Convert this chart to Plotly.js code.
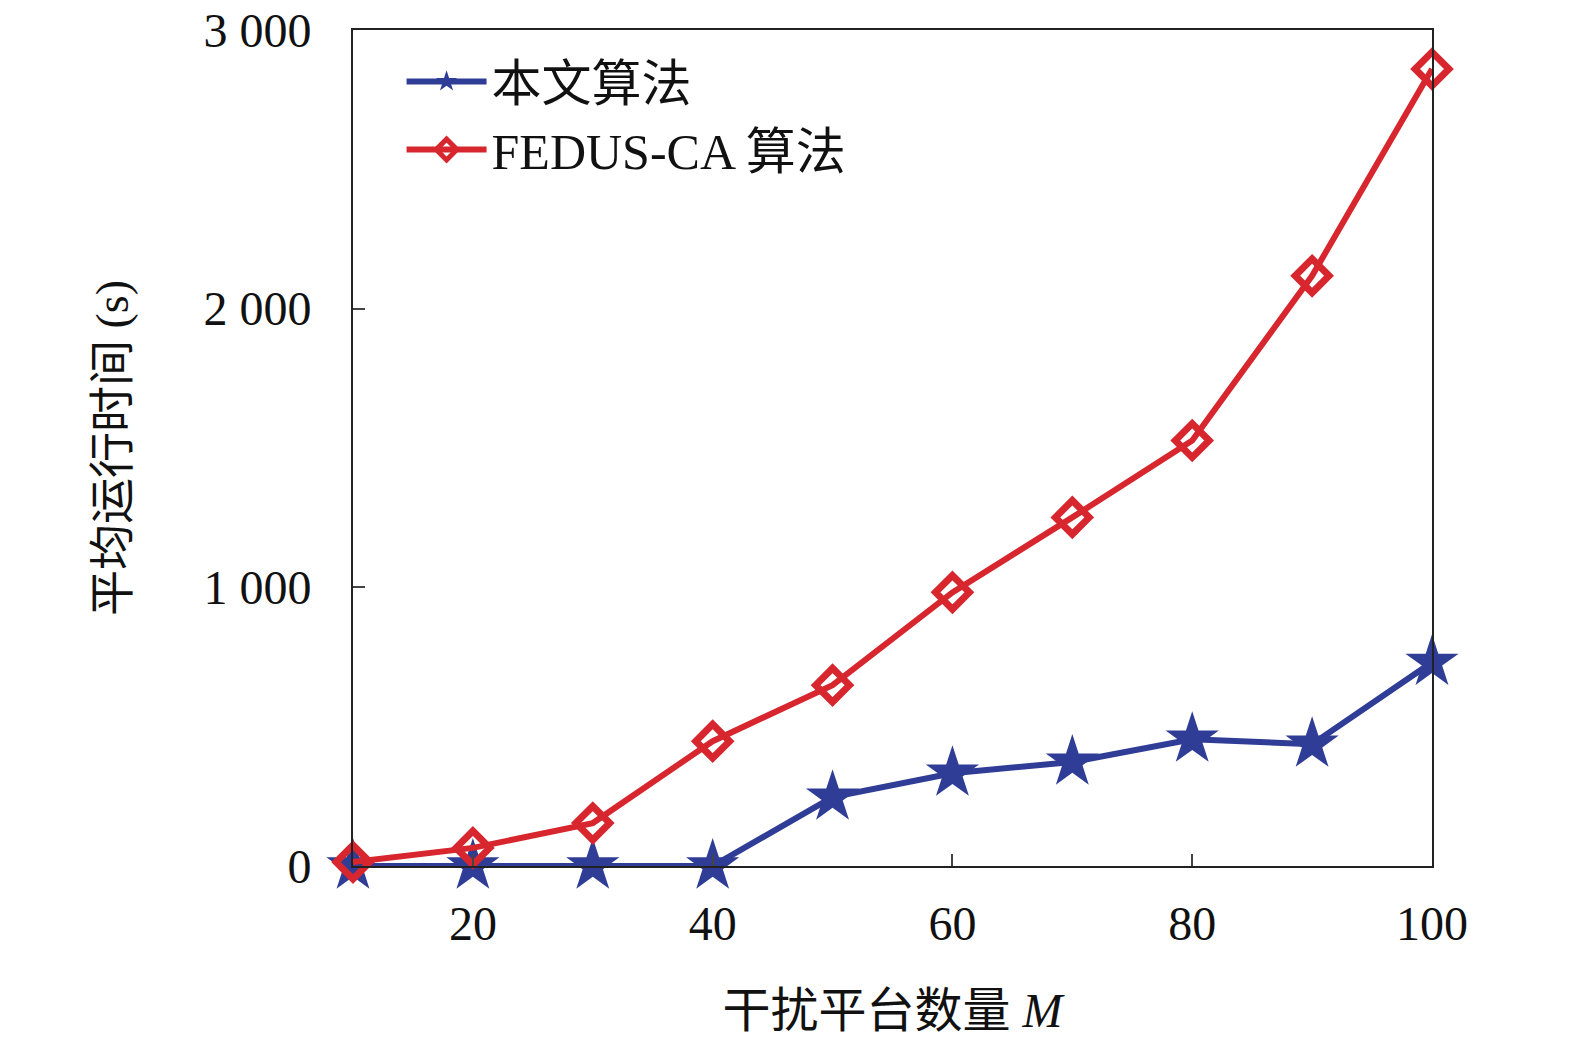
<!DOCTYPE html>
<html><head><meta charset="utf-8">
<script src="https://cdn.plot.ly/plotly-3.0.1.min.js"></script>
<style>body{margin:0;background:#fff}</style>
</head><body>
<div id="chart" style="width:1575px;height:1054px"></div>
<script>
// platform counts M
const platforms = [10, 20, 30, 40, 50, 60, 70, 80, 90, 100];
// average running time (s)
const oursTime = [0, 0, 0, 0, 247, 333, 373, 455, 437, 731];
const fedusTime = [14, 65, 154, 448, 649, 982, 1251, 1527, 2118, 2860];
const yTicks = [0, 1000, 2000, 3000];
const yTickText = ['0', '1 000', '2 000', '3 000'];
const xTicks = [20, 40, 60, 80, 100];

const blue = '#2f3d96', red = '#d8262e';
const fontFam = '"Liberation Serif", "Noto Sans CJK SC", serif';

let traces = [
  {
    x: platforms, y: oursTime, name: '本文算法', type: 'scatter', mode: 'lines+markers',
    line: {color: blue, width: 6},
    marker: {symbol: 'star', size: 40, color: blue},
    cliponaxis: false
  },
  {
    x: platforms, y: fedusTime, name: 'FEDUS-CA 算法', type: 'scatter', mode: 'lines+markers',
    line: {color: red, width: 6},
    marker: {symbol: 'diamond-open', size: 26, color: red, line: {width: 7, color: red}},
    cliponaxis: false
  }
];

let layout = {
  width: 1575, height: 1054,
  margin: {l: 353, r: 143, t: 30, b: 188},
  paper_bgcolor: 'white', plot_bgcolor: 'white',
  font: {family: fontFam, size: 48, color: '#111'},
  showlegend: true,
  legend: {x: 0.045, y: 0.985, xanchor: 'left', yanchor: 'top', bgcolor: 'rgba(0,0,0,0)',
           font: {size: 50}, tracegroupgap: 0, itemwidth: 80},
  xaxis: {
    range: [10, 100], tickvals: xTicks, ticks: 'inside', ticklen: 12, tickwidth: 2,
    ticklabelstandoff: 14, automargin: false,
    showline: true, linecolor: '#222', linewidth: 2, mirror: true, showgrid: false, zeroline: false,
    title: {text: '干扰平台数量 <i>M</i>', standoff: 45, font: {size: 48}}
  },
  yaxis: {
    range: [0, 3000], tickvals: yTicks, ticktext: yTickText, ticks: 'inside', ticklen: 12, tickwidth: 2,
    ticklabelstandoff: 30, automargin: false,
    showline: true, linecolor: '#222', linewidth: 2, mirror: true, showgrid: false, zeroline: false,
    title: {text: '平均运行时间 (s)', standoff: 60, font: {size: 46}}
  }
};

Plotly.newPlot('chart', traces, layout, {displayModeBar: false});
</script>
</body></html>
